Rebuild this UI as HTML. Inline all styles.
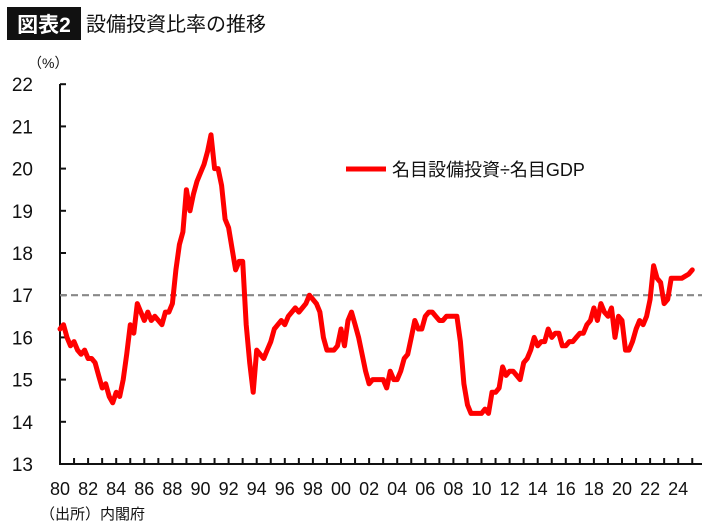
<!DOCTYPE html>
<html><head><meta charset="utf-8"><style>
body{margin:0;background:#fff;}
svg{display:block;font-family:"Liberation Sans","Noto Sans CJK JP",sans-serif;}
</style></head><body>
<svg id="chart" width="710" height="529" viewBox="0 0 710 529">
<rect x="7" y="7" width="74" height="33" fill="#111"/>
<text x="44" y="32" fill="#fff" font-size="21" font-weight="bold" text-anchor="middle">図表2</text>
<text x="86" y="31" fill="#111" font-size="20">設備投資比率の推移</text>
<text x="28" y="68" fill="#111" font-size="14">（%）</text>
<g id="yticks"></g>
<g id="xticks"></g>
<line x1="60" y1="464" x2="702" y2="464" stroke="#111" stroke-width="2"/>
<line x1="60" y1="84" x2="60" y2="465" stroke="#111" stroke-width="2"/>
<line id="ref" x1="60" x2="702" stroke="#888" stroke-width="2.2" stroke-dasharray="7 4"/>
<path id="series" fill="none" stroke="#f00" stroke-width="5" stroke-linejoin="round" stroke-linecap="round"/>
<line x1="346" y1="169" x2="386" y2="169" stroke="#f00" stroke-width="5"/>
<text x="392" y="176" fill="#111" font-size="18">名目設備投資÷名目GDP</text>
<text x="40" y="519" fill="#111" font-size="15">（出所）内閣府</text>
</svg>
<script>
const startYear = 1980;
const values = [
16.2,16.3,16.0,15.8, 15.9,15.7,15.6,15.7, 15.5,15.5,15.4,15.1, 14.8,14.9,14.6,14.45,
14.7,14.6,15.0,15.6, 16.3,16.1,16.8,16.6, 16.4,16.6,16.4,16.5, 16.4,16.3,16.6,16.6,
16.8,17.6,18.2,18.5, 19.5,19.0,19.4,19.7, 19.9,20.1,20.4,20.8, 20.0,20.0,19.6,18.8,
18.6,18.1,17.6,17.8, 17.8,16.3,15.4,14.7, 15.7,15.6,15.5,15.7, 15.9,16.2,16.3,16.4,
16.3,16.5,16.6,16.7, 16.6,16.7,16.8,17.0, 16.9,16.8,16.6,16.0, 15.7,15.7,15.7,15.8,
16.2,15.8,16.4,16.6, 16.3,16.0,15.6,15.2, 14.9,15.0,15.0,15.0, 15.0,14.8,15.2,15.0,
15.0,15.2,15.5,15.6, 16.0,16.4,16.2,16.2, 16.5,16.6,16.6,16.5, 16.4,16.4,16.5,16.5,
16.5,16.5,15.9,14.9, 14.4,14.2,14.2,14.2, 14.2,14.3,14.2,14.7, 14.7,14.8,15.3,15.1,
15.2,15.2,15.1,15.0, 15.4,15.5,15.7,16.0, 15.8,15.9,15.9,16.2, 16.0,16.1,16.1,15.8,
15.8,15.9,15.9,16.0, 16.1,16.1,16.3,16.4, 16.7,16.4,16.8,16.6, 16.5,16.7,16.0,16.5,
16.4,15.7,15.7,15.9, 16.2,16.4,16.3,16.5, 16.9,17.7,17.4,17.3, 16.8,16.9,17.4,17.4,
17.4,17.4,17.45,17.5, 17.6
];
const yTicks = [13,14,15,16,17,18,19,20,21,22];
const xLabels = ["80","82","84","86","88","90","92","94","96","98","00","02","04","06","08","10","12","14","16","18","20","22","24"];
const refValue = 17;

const NS = "http://www.w3.org/2000/svg";
const X = yr => 60 + (yr - 1980) * 14.05;
const Y = v => 464 - (v - 13) * 42.2;

const yg = document.getElementById('yticks');
yTicks.forEach(t => {
  const l = document.createElementNS(NS,'line');
  l.setAttribute('x1',60); l.setAttribute('x2',66);
  l.setAttribute('y1',Y(t)); l.setAttribute('y2',Y(t));
  l.setAttribute('stroke','#111'); l.setAttribute('stroke-width',2);
  
  
  yg.appendChild(l);
  const tx = document.createElementNS(NS,'text');
  tx.setAttribute('x',33); tx.setAttribute('y',Y(t)+7);
  tx.setAttribute('text-anchor','end'); tx.setAttribute('font-size','19');
  tx.setAttribute('fill','#111');
  tx.textContent = t;
  
  
  yg.appendChild(tx);
});
const xg = document.getElementById('xticks');
for (let yr = 1980; yr <= 2025; yr++) {
  const l = document.createElementNS(NS,'line');
  l.setAttribute('x1',X(yr)); l.setAttribute('x2',X(yr));
  l.setAttribute('y1',458); l.setAttribute('y2',464);
  l.setAttribute('stroke','#111'); l.setAttribute('stroke-width',2);
  
  
  xg.appendChild(l);
}
xLabels.forEach((lab,i) => {
  const tx = document.createElementNS(NS,'text');
  tx.setAttribute('x',X(1980+2*i)); tx.setAttribute('y',495);
  tx.setAttribute('text-anchor','middle'); tx.setAttribute('font-size','18');
  tx.setAttribute('fill','#111');
  tx.textContent = lab;
  
  
  xg.appendChild(tx);
});
const ref = document.getElementById('ref');
ref.setAttribute('y1',Y(refValue)); ref.setAttribute('y2',Y(refValue));
document.getElementById('series').setAttribute('d',
  values.map((v,i)=>(i?'L':'M')+X(startYear+i*0.25).toFixed(1)+' '+Y(v).toFixed(1)).join(' '));
</script>
</body></html>
